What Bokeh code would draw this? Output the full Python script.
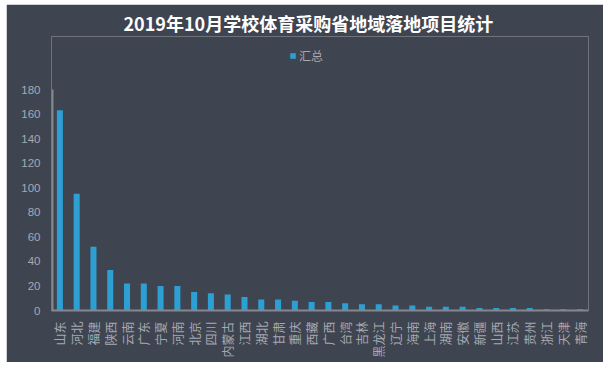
import math
from bokeh.plotting import figure
from bokeh.models import Legend, LegendItem, FixedTicker, Range1d, ColumnDataSource
from bokeh.embed import file_html
from bokeh.resources import INLINE

provinces = ["山东", "河北", "福建", "陕西", "云南", "广东", "宁夏", "河南", "北京", "四川",
             "内蒙古", "江西", "湖北", "甘肃", "重庆", "西藏", "广西", "台湾", "吉林", "黑龙江",
             "辽宁", "海南", "上海", "湖南", "安徽", "新疆", "山西", "江苏", "贵州", "浙江",
             "天津", "青海"]
counts = [163, 95, 52, 33, 22, 22, 20, 20, 15, 14,
          13, 11, 9, 9, 8, 7, 7, 6, 5, 5,
          4, 4, 3, 3, 3, 2, 2, 2, 2, 1,
          1, 1]
y_ticks = [0, 20, 40, 60, 80, 100, 120, 140, 160, 180]
y_max = 180
series_name = "汇总"
title_text = "2019年10月学校体育采购省地域落地项目统计"

BG = "#3f4451"
BAR = "#2d9fd2"
TXT = "#a6a9b0"
AXIS = "#85878e"
FONT = "Noto Sans CJK SC"

W, H = 597, 358
B_LEFT, B_RIGHT, B_TOP, B_BOTTOM = 45, 15, 32, 52
AXIS_TOP = 85  # pixel row of the top tick (180) from the top of the figure
frame_h = H - B_TOP - B_BOTTOM
y_end = y_max * frame_h / (H - B_BOTTOM - AXIS_TOP)

src = ColumnDataSource(dict(x=provinces, y=counts))

p = figure(x_range=provinces, y_range=Range1d(0, y_end), width=W, height=H,
           output_backend="svg", toolbar_location=None,
           min_border_left=B_LEFT, min_border_right=B_RIGHT,
           min_border_bottom=B_BOTTOM, min_border_top=B_TOP,
           background_fill_color=BG, border_fill_color=BG)
p.outline_line_color = None
p.styles = {"margin-left": "6px", "margin-top": "4px"}

r = p.vbar(x="x", top="y", width=0.36, source=src, fill_color=BAR, line_color=None)

# vertical axis rule, limited to the 0..180 span like the reference
p.segment(x0=[(provinces[0], -0.44)], x1=[(provinces[0], -0.44)], y0=[0], y1=[y_max],
          line_color=AXIS, line_width=2)

p.title.text = title_text
p.title.align = "left"
p.title.offset = 72
p.title.standoff = 2
p.title.text_color = "#ffffff"
p.title.text_font = FONT
p.title.text_font_size = "18px"
p.title.text_font_style = "bold"

legend = Legend(items=[LegendItem(label=series_name, renderers=[r])],
                orientation="horizontal", location=(238, 246),
                background_fill_alpha=0, border_line_alpha=0,
                label_text_color=TXT, label_text_font=FONT, label_text_font_size="12px",
                glyph_width=7, glyph_height=7, padding=0, margin=0, spacing=0,
                label_standoff=3, label_height=12)
p.add_layout(legend, "center")

p.xgrid.visible = False
p.ygrid.visible = False

p.yaxis.ticker = FixedTicker(ticks=y_ticks)
p.yaxis.axis_line_color = None
p.yaxis.major_tick_line_color = None
p.yaxis.minor_tick_line_color = None
p.yaxis.major_label_text_color = TXT
p.yaxis.major_label_text_font = "Liberation Sans"
p.yaxis.major_label_text_font_size = "11.5px"
p.yaxis.major_label_standoff = 5

p.xaxis.axis_line_color = AXIS
p.xaxis.axis_line_width = 2
p.xaxis.major_tick_line_color = None
p.xaxis.minor_tick_line_color = None
p.xaxis.major_label_text_color = TXT
p.xaxis.major_label_text_font = FONT
p.xaxis.major_label_text_font_size = "12px"
p.xaxis.major_label_orientation = math.pi / 2
p.xaxis.major_label_standoff = 5

p.x_range.range_padding = 0

open("out.html", "w").write(file_html(p, INLINE))
